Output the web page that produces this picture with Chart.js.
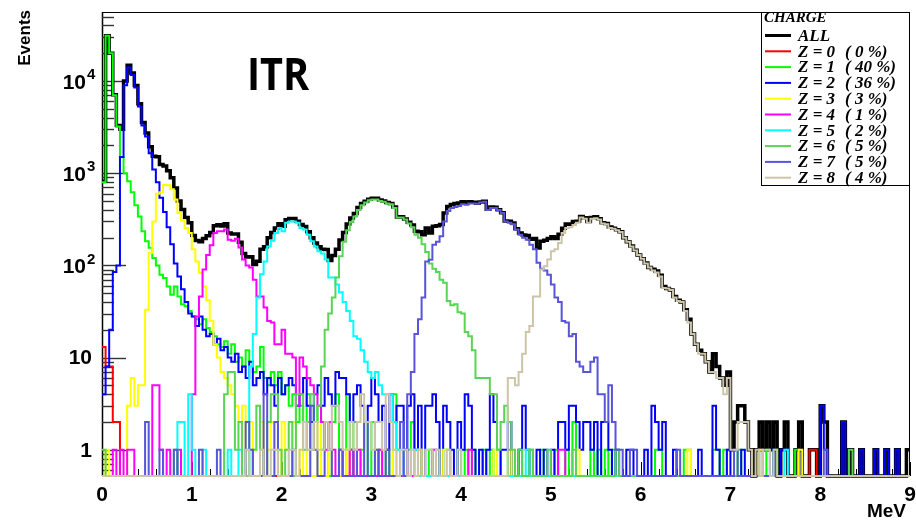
<!DOCTYPE html>
<html><head><meta charset="utf-8">
<script src="https://cdn.jsdelivr.net/npm/chart.js@4.4.1/dist/chart.umd.min.js"></script>
<style>html,body{margin:0;padding:0;background:#fff;overflow:hidden}canvas{display:block}</style>
</head><body>
<canvas id="c" width="916" height="521"></canvas>
<script>
// ---- histogram definition: 225 bins of 0.04 MeV from 0 to 9 MeV ----
const binWidth = 0.04;
const xMin = 0, xMax = 9;
const yMin = 0.52, yMax = 56000;
const xTickLabels = ['0','1','2','3','4','5','6','7','8','9'];
const yTickDecades = [0,1,2,3,4];

const countsAll = [
820,31020,20030,7090,3300,3000,10000,14830,12230,8960,5650,3540,2720,1940,1530,1510,1240,1200,1060,890,690,500,405,331,291,
211,186,181,196,210,227,270,276,267,283,224,219,219,178,135,123,124,102,111,150,159,199,228,255,283,
265,313,323,323,302,278,264,232,199,175,159,150,149,113,128,150,188,227,282,327,365,425,470,497,522,
535,535,511,498,481,470,430,335,337,318,293,275,235,232,215,254,225,265,269,277,370,435,458,468,475,
491,479,491,484,471,487,497,407,429,427,402,373,304,301,288,250,225,214,211,192,196,154,183,187,196,
205,196,218,253,281,280,299,302,339,329,299,331,337,320,291,285,261,253,243,231,200,181,162,146,130,
118,106,95,91,87,78,59,56,54,46,42,40,33,26,18,14,12,11,9,7,11,8,6,5,7,
1,2,3,3,2,1,0,1,2,1,2,1,2,0,1,2,0,0,1,2,0,0,1,1,0,
3,2,0,0,0,0,2,0,1,0,0,1,0,0,0,1,0,0,1,0,0,1,0,0,1];

const countsZ0 = [
13,8,8,2,2,0,0,0,0,0,0,0,0,0,0,0,0,0,0,0,0,0,0,0,0,
0,0,0,0,0,0,0,0,0,0,0,0,0,0,0,0,0,0,0,0,0,0,0,0,0,
0,0,0,0,0,0,0,0,0,0,0,0,0,0,0,0,0,0,0,1,0,0,0,0,0,
0,0,0,0,0,0,0,0,0,0,0,0,0,0,0,0,0,0,0,0,0,0,0,0,0,
0,0,0,0,0,0,0,0,0,0,0,0,0,0,0,0,0,0,0,0,0,0,0,0,0,
0,0,0,0,0,0,0,0,0,0,0,0,0,0,0,0,0,0,0,0,0,0,0,0,0,
0,0,0,0,0,0,0,0,0,0,0,0,0,0,0,0,0,0,0,0,0,0,0,0,0,
0,0,0,0,0,0,0,0,0,0,0,0,0,0,0,0,0,0,0,0,0,0,1,1,0,
0,0,0,0,0,0,0,0,0,0,0,0,0,0,0,0,0,0,0,0,0,0,0,0,0];

const countsZ1 = [
800,31000,20000,7000,3200,1500,1000,820,620,450,340,235,183,155,120,100,79,73,59,48,59,46,38,36,32,
28,26,23,26,21,19,17,14,13,15,11,14,9,10,8,12,9,7,8,13,6,5,7,5,7,
4,5,3,4,2,3,2,4,1,2,3,1,2,0,2,4,1,0,4,1,2,0,1,2,0,
2,0,1,0,1,0,4,1,0,0,1,2,0,1,0,0,1,0,1,0,1,1,0,0,1,
0,1,0,1,0,0,1,0,1,0,1,0,0,1,0,0,1,0,0,1,0,0,1,0,0,
0,1,0,0,1,0,2,0,0,0,0,1,0,1,0,1,0,1,0,0,0,0,0,0,0,
0,0,0,0,1,1,0,0,0,0,0,0,1,1,0,0,0,0,0,0,1,1,0,1,0,
0,0,1,0,0,0,0,0,0,0,1,0,1,0,0,0,0,0,1,0,0,0,0,0,0,
0,0,0,0,0,0,0,0,0,0,0,0,0,0,0,0,0,0,0,0,0,0,0,0,0];

const countsZ2 = [
4,8,20,85,100,1500,9000,14000,11600,8500,5300,3300,2500,1650,1100,800,540,380,260,170,105,76,55,40,30,
28,22,28,20,17,18,14,16,12,13,10,9,11,7,8,6,9,5,6,7,4,6,5,3,6,
4,5,6,5,3,4,6,3,2,4,5,3,6,4,3,7,6,6,4,2,4,5,3,2,3,
6,4,2,3,1,4,2,3,3,1,3,4,1,3,0,3,3,4,2,0,3,2,1,0,2,
1,4,3,1,0,1,0,1,4,2,0,1,1,2,0,0,1,3,1,0,0,1,0,1,0,
1,0,2,2,1,3,3,2,1,2,2,1,2,0,2,2,1,0,1,0,0,1,1,0,0,
0,1,0,3,2,1,2,0,0,1,0,0,0,0,0,0,1,0,0,0,3,1,0,0,1,
0,0,0,1,0,0,0,0,1,0,0,1,0,0,1,1,0,0,0,1,0,0,0,0,0,
3,1,0,0,0,0,2,0,0,0,0,1,0,0,0,1,0,0,1,0,0,1,0,0,0];

const countsZ3 = [
0,1,0,0,0,0,0,3,6,3,5,5,33,137,300,600,620,750,740,670,520,370,310,255,225,
150,110,83,59,42,25,14,10,7,6,5,4,3,2,3,1,2,1,3,2,0,1,2,1,0,
2,1,0,2,0,1,0,1,0,0,2,0,0,1,0,0,0,0,1,0,0,1,0,0,0,
0,1,0,0,0,0,1,0,0,0,0,0,0,1,0,0,0,0,0,0,1,0,0,0,0,
0,0,0,0,0,0,0,0,0,1,0,0,0,0,1,0,0,0,0,0,0,0,0,0,0,
0,0,0,0,0,0,0,1,0,0,0,0,0,0,0,0,0,0,0,0,0,0,0,0,0,
0,0,0,0,0,0,0,0,0,0,0,0,0,1,0,0,0,0,0,0,0,0,0,0,0,
0,0,0,0,0,0,0,0,1,0,0,0,0,0,0,0,0,0,0,1,0,0,0,0,0,
0,0,0,0,0,0,0,0,0,0,0,0,0,0,0,0,0,0,0,0,0,0,0,0,0];

const countsZ4 = [
0,0,0,1,0,1,0,1,1,0,0,0,0,0,5,5,1,0,1,0,0,1,0,0,0,
4,28,46,90,130,165,225,235,235,245,190,185,195,156,116,100,95,70,46,46,35,25,24,14,14,
20,11,11,10,3,10,8,6,5,4,3,2,1,2,1,0,1,0,0,1,0,1,0,0,0,
0,0,1,0,0,0,0,0,0,1,0,0,0,0,0,0,0,1,0,0,0,0,0,0,0,
0,0,1,0,0,0,0,0,0,0,0,0,0,0,0,0,0,0,0,0,0,0,0,0,0,
0,0,1,1,0,0,0,0,0,0,0,0,0,0,0,0,0,0,0,0,0,0,0,0,0,
0,0,0,0,0,0,0,0,0,0,0,0,0,0,0,0,0,0,0,0,0,0,0,0,0,
0,0,0,0,0,0,0,0,0,0,0,0,0,0,0,0,0,0,0,0,0,0,0,0,0,
0,0,0,0,0,0,0,0,0,0,0,0,0,0,0,0,0,0,0,0,0,0,0,0,0];

const countsZ5 = [
0,0,0,0,0,0,0,0,0,0,0,0,0,0,0,0,0,0,0,0,0,2,2,0,4,
1,0,0,1,0,0,0,0,0,0,1,0,0,1,0,0,8,18,45,80,110,160,185,225,255,
235,290,300,300,290,255,245,215,183,160,142,135,116,74,74,62,51,40,32,25,17,16,12,9,7,
6,7,5,4,4,4,2,1,1,0,0,1,1,0,0,0,0,0,0,0,0,0,0,0,0,
0,0,0,0,0,0,0,0,0,0,0,0,0,0,0,0,0,0,1,0,0,0,0,0,0,
0,0,0,0,0,0,0,0,0,0,0,0,0,0,0,0,0,0,0,0,0,0,0,0,0,
0,0,0,0,0,0,0,0,0,0,0,0,0,0,0,0,0,0,0,0,0,0,0,0,0,
0,0,0,0,0,0,0,0,0,0,0,0,0,0,0,1,0,0,0,0,0,0,0,0,0,
0,0,0,0,0,0,0,0,0,0,0,0,0,0,0,0,0,0,0,0,0,0,0,0,0];

const countsZ6 = [
1,0,0,0,0,0,0,0,0,0,0,0,0,0,0,0,0,0,0,0,1,0,0,0,0,
0,0,0,0,0,0,0,0,0,4,7,7,1,2,0,1,0,1,3,1,0,2,4,4,1,
0,1,2,0,4,4,1,2,4,2,3,8,20,30,45,74,126,180,240,295,340,400,450,480,510,
520,520,500,490,470,460,420,330,330,315,285,260,215,200,170,140,105,92,85,70,65,41,37,38,31,
30,19,17,12,6,6,6,6,4,4,1,2,3,2,1,0,1,0,0,1,0,0,0,0,1,
0,0,0,0,0,0,1,0,0,0,0,0,0,0,0,0,0,0,1,0,0,0,0,0,0,
0,0,0,0,0,0,0,0,0,0,0,0,0,0,0,0,0,0,0,0,0,0,0,0,0,
0,0,0,0,0,0,0,0,0,0,0,0,0,0,0,0,0,0,0,0,0,0,0,0,0,
0,0,0,0,0,0,0,0,1,0,0,0,0,0,0,0,0,0,0,0,0,0,0,0,0];

const countsZ7 = [
0,0,0,0,0,0,0,0,0,0,0,0,2,0,0,0,1,0,0,0,1,0,0,0,0,
0,0,1,0,0,0,0,1,0,0,0,0,0,0,0,2,1,0,0,0,4,0,0,2,0,
0,0,0,1,0,0,0,0,3,1,0,0,2,1,0,0,1,0,0,0,1,0,0,2,0,
0,1,0,0,1,0,0,0,2,0,4,7,18,26,45,110,115,168,180,207,300,390,420,430,440,
460,455,470,470,465,480,490,400,420,420,400,370,300,290,280,245,215,200,190,168,150,107,92,88,79,
62,45,40,25,24,17,18,9,8,7,7,9,10,4,4,2,5,2,1,1,0,0,1,1,0,
0,0,0,0,0,0,0,0,0,0,1,0,0,0,0,0,0,0,0,0,0,0,0,0,0,
0,1,0,0,0,0,0,0,0,0,0,0,0,0,0,0,0,0,0,0,0,0,0,0,0,
0,1,0,0,0,0,0,0,0,0,0,0,0,0,0,0,0,0,0,0,0,0,0,0,0];

const countsZ8 = [
0,0,0,0,0,0,0,0,0,0,0,0,0,0,0,0,0,0,0,0,0,0,0,0,0,
0,0,0,0,0,0,0,0,0,0,0,0,0,0,0,1,0,0,0,1,0,0,1,1,0,
0,0,1,1,0,1,2,1,1,2,1,1,2,1,3,3,2,1,1,2,1,2,4,2,2,
1,2,2,1,4,2,1,0,1,1,0,1,0,1,0,1,1,0,1,0,0,1,0,0,1,
0,0,0,0,0,0,0,0,0,0,0,0,0,6,6,5,7,11,19,22,46,46,90,98,116,
142,150,175,225,255,260,275,290,330,320,290,320,325,315,285,280,255,250,240,230,200,180,160,145,130,
118,105,95,88,84,76,57,56,54,45,41,40,32,24,18,14,11,11,9,7,7,6,6,4,6,
1,1,2,2,2,1,0,1,0,1,1,0,1,0,0,0,0,0,0,0,0,0,0,0,0,
0,0,0,0,0,0,0,0,0,0,0,0,0,0,0,0,0,0,0,0,0,0,0,0,0];

const legendTitle = 'CHARGE';
const seriesLabels = ['ALL','Z = 0','Z = 1','Z = 2','Z = 3','Z = 4','Z = 5','Z = 6','Z = 7','Z = 8'];
const seriesShares = ['','( 0 %)','( 40 %)','( 36 %)','( 3 %)','( 1 %)','( 2 %)','( 5 %)','( 5 %)','( 4 %)'];
const seriesCounts = [countsAll,countsZ0,countsZ1,countsZ2,countsZ3,countsZ4,countsZ5,countsZ6,countsZ7,countsZ8];

// ---- styling (kept apart from the data) ----
const seriesColors = ['#000000','#ff0000','#00ff00','#0000ff','#ffff00','#ff00ff','#00ffff','#59d454','#5954d8','#ccc5aa'];
const seriesWidths = [3.5,2,2,2,2,2,2,2,2,2];

function toSteps(vals){
  const pts = vals.map((v,i)=>({x: xMin + i*binWidth, y: v>0 ? v : yMin}));
  pts.push({x: xMax, y: pts[pts.length-1].y});
  return pts;
}

const rootStyle = {
  id: 'rootStyle',
  beforeDatasetsDraw(chart){
    const {ctx, chartArea:a, scales:{x, y}} = chart;
    ctx.save();
    ctx.strokeStyle = '#000';
    ctx.lineWidth = 1;
    ctx.strokeRect(a.left+0.5, a.top+0.5, a.right-a.left-1, a.bottom-a.top-1);
    ctx.lineWidth = 1.5;
    ctx.beginPath(); ctx.moveTo(a.left+0.5, a.top); ctx.lineTo(a.left+0.5, a.bottom); ctx.stroke();
    // y ticks (inside)
    ctx.strokeStyle = '#333'; ctx.lineWidth = 1.4;
    for (let d=-1; d<=5; d++) for (let m=1; m<=9; m++){
      const v = m*Math.pow(10,d);
      if (v < yMin || v > yMax) continue;
      const py = Math.round(y.getPixelForValue(v))+0.5;
      const len = m===1 ? 24 : 12;
      ctx.beginPath(); ctx.moveTo(a.left, py); ctx.lineTo(a.left+len, py); ctx.stroke();
    }
    // x ticks (inside)
    ctx.strokeStyle = '#000'; ctx.lineWidth = 1;
    for (let i=0; i<=45; i++){
      const px = Math.round(x.getPixelForValue(i*0.2))+0.5;
      const len = i%5===0 ? 14 : 7;
      ctx.beginPath(); ctx.moveTo(px, a.bottom); ctx.lineTo(px, a.bottom-len); ctx.stroke();
    }
    ctx.restore();
  },
  afterDraw(chart){
    const {ctx, chartArea:a, scales:{x, y}} = chart;
    ctx.save();
    ctx.fillStyle = '#000';
    // y labels
    ctx.textBaseline = 'middle';
    yTickDecades.forEach(d=>{
      const py = y.getPixelForValue(Math.pow(10,d));
      ctx.font = 'bold 21px "Liberation Sans", Arial, sans-serif';
      ctx.textAlign = 'right';
      if (d < 2){
        ctx.fillText(d===0 ? '1' : '10', 92, py+1);
      } else {
        ctx.fillText('10', 86, py+2);
        ctx.font = 'bold 15px "Liberation Sans", Arial, sans-serif';
        ctx.textAlign = 'left';
        ctx.fillText(String(d), 87, py-6);
      }
    });
    // x labels
    ctx.font = 'bold 21px "Liberation Sans", Arial, sans-serif';
    ctx.textAlign = 'center'; ctx.textBaseline = 'alphabetic';
    xTickLabels.forEach((t,i)=>{
      ctx.fillText(t, x.getPixelForValue(i), 501);
    });
    // axis titles
    ctx.font = 'bold 19px "Liberation Sans", Arial, sans-serif';
    ctx.textAlign = 'right';
    ctx.fillText('MeV', 906, 517);
    ctx.save();
    ctx.translate(30, 10);
    ctx.rotate(-Math.PI/2);
    ctx.textAlign = 'right'; ctx.textBaseline = 'alphabetic';
    ctx.font = 'bold 17px "Liberation Sans", Arial, sans-serif';
    ctx.fillText('Events', 0, 0);
    ctx.restore();
    // ITR
    ctx.save();
    ctx.translate(247, 90);
    ctx.scale(0.9, 1);
    ctx.font = 'bold 44px "Open Sans", sans-serif';
    ctx.textAlign = 'left'; ctx.textBaseline = 'alphabetic';
    ctx.fillText('ITR', 0, 0);
    ctx.restore();
    // legend box
    const lx = 761, ly = a.top, lw = a.right - 761, lh = 174;
    ctx.fillStyle = '#fff';
    ctx.fillRect(lx, ly, lw, lh);
    ctx.strokeStyle = '#000'; ctx.lineWidth = 1;
    ctx.strokeRect(lx+0.5, ly+0.5, lw-1, lh-1);
    ctx.fillStyle = '#000';
    ctx.font = 'italic bold 15px "Liberation Serif", "Times New Roman", serif';
    ctx.textAlign = 'left'; ctx.textBaseline = 'middle';
    ctx.fillText(legendTitle, 764, 18);
    chart.data.datasets.forEach((ds,i)=>{
      const ry = 35.5 + 15.8*i;
      ctx.strokeStyle = ds.borderColor;
      ctx.lineWidth = i===0 ? 3 : 2;
      ctx.beginPath(); ctx.moveTo(765, ry); ctx.lineTo(791, ry); ctx.stroke();
      ctx.font = 'italic bold 17px "Liberation Serif", "Times New Roman", serif';
      ctx.fillText(seriesLabels[i], 798, ry+1);
      if (seriesShares[i]) ctx.fillText(seriesShares[i], 845, ry+1);
    });
    ctx.restore();
  }
};

new Chart(document.getElementById('c'), {
  type: 'line',
  data: {
    datasets: seriesCounts.map((vals,i)=>({
      label: seriesLabels[i],
      data: toSteps(vals),
      borderColor: seriesColors[i],
      borderWidth: seriesWidths[i],
      stepped: true,
      pointRadius: 0,
      fill: false,
      order: i===0 ? 100 : 20 - i,
      borderJoinStyle: 'miter',
      borderCapStyle: 'butt',
      clip: 4
    }))
  },
  options: {
    responsive: false,
    animation: false,
    devicePixelRatio: 1,
    layout: { padding: { left: 102, top: 12, right: 6, bottom: 45 } },
    plugins: { legend: { display: false }, tooltip: { enabled: false } },
    scales: {
      x: { type: 'linear', min: xMin, max: xMax, display: false },
      y: { type: 'logarithmic', min: yMin, max: yMax, display: false }
    }
  },
  plugins: [rootStyle]
});
</script>
</body></html>
